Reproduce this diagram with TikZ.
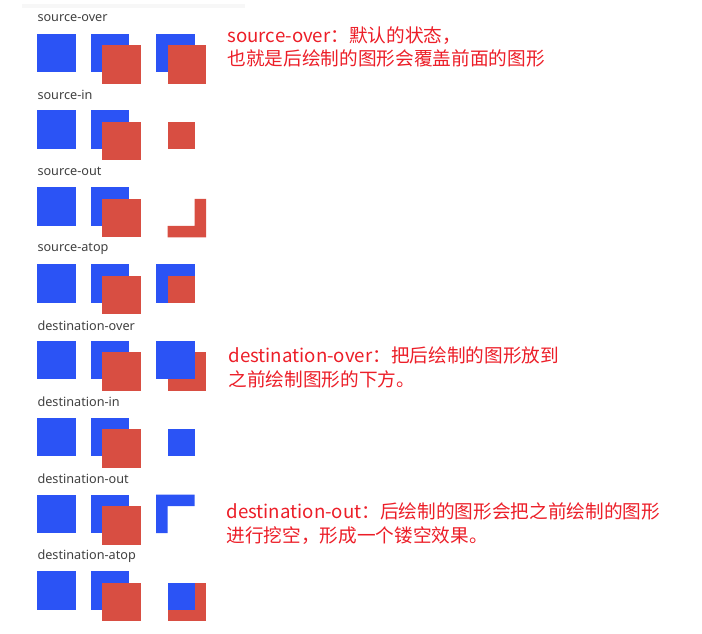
\documentclass[tikz,border=0pt]{standalone}
\usepackage{fontspec}
\setmainfont{Noto Sans}
\newfontfamily\cjk{Noto Sans CJK SC}

\definecolor{sqBlue}{RGB}{43,83,245}
\definecolor{sqRed}{RGB}{216,78,66}
\definecolor{noteRed}{RGB}{236,30,40}
\definecolor{labGray}{RGB}{64,64,64}

\tikzset{every picture/.style={line width=0.75pt}}
\tikzset{
  blueSq/.style={fill=sqBlue},
  redSq/.style={fill=sqRed},
  opLabel/.style={anchor=west, inner sep=0pt, text=labGray, font=\fontsize{9.5}{11}\selectfont},
  noteText/.style={anchor=west, inner sep=0pt, align=left, text=noteRed, font=\cjk\fontsize{14}{17.5}\selectfont}
}

\begin{document}
\begin{tikzpicture}[x=0.75pt,y=0.75pt,yscale=-1,xscale=1]
\useasboundingbox (0,0) rectangle (702,634);

%Straight Lines (faint top rule)
\draw [color=black!3, line width=3] (22,6) -- (245,6) ;

% ---- source-over
\node [opLabel] (lSrcOver) at (37,18) {source-over};
\fill [blueSq] (37,33.7) rectangle +(38.5,38.5) ;
\fill [blueSq] (90.5,33.7) rectangle +(38.5,38.5) ;
\fill [redSq] (102,45.2) rectangle +(38.5,38.5) ;
\fill [blueSq] (156,33.7) rectangle +(38.5,38.5) ;
\fill [redSq] (167.5,45.2) rectangle +(38.5,38.5) ;

% ---- source-in
\node [opLabel] (lSrcIn) at (37,95) {source-in};
\fill [blueSq] (37,110.5) rectangle +(38.5,38.5) ;
\fill [blueSq] (90.5,110.5) rectangle +(38.5,38.5) ;
\fill [redSq] (102,122) rectangle +(38.5,38.5) ;
\fill [redSq] (167.5,122) rectangle (194.5,149) ;

% ---- source-out
\node [opLabel] (lSrcOut) at (37,171.8) {source-out};
\fill [blueSq] (37,187.3) rectangle +(38.5,38.5) ;
\fill [blueSq] (90.5,187.3) rectangle +(38.5,38.5) ;
\fill [redSq] (102,198.8) rectangle +(38.5,38.5) ;
\fill [redSq] (194.5,198.8) -- (206,198.8) -- (206,237.3) -- (167.5,237.3) -- (167.5,225.8) -- (194.5,225.8) -- cycle ;

% ---- source-atop
\node [opLabel] (lSrcAtop) at (37,248.6) {source-atop};
\fill [blueSq] (37,264.1) rectangle +(38.5,38.5) ;
\fill [blueSq] (90.5,264.1) rectangle +(38.5,38.5) ;
\fill [redSq] (102,275.6) rectangle +(38.5,38.5) ;
\fill [blueSq] (156,264.1) rectangle +(38.5,38.5) ;
\fill [redSq] (167.5,275.6) rectangle (194.5,302.6) ;

% ---- destination-over
\node [opLabel] (lDstOver) at (37,325.4) {destination-over};
\fill [blueSq] (37,340.9) rectangle +(38.5,38.5) ;
\fill [blueSq] (90.5,340.9) rectangle +(38.5,38.5) ;
\fill [redSq] (102,352.4) rectangle +(38.5,38.5) ;
\fill [redSq] (167.5,352.4) rectangle +(38.5,38.5) ;
\fill [blueSq] (156,340.9) rectangle +(38.5,38.5) ;

% ---- destination-in
\node [opLabel] (lDstIn) at (37,402.2) {destination-in};
\fill [blueSq] (37,417.7) rectangle +(38.5,38.5) ;
\fill [blueSq] (90.5,417.7) rectangle +(38.5,38.5) ;
\fill [redSq] (102,429.2) rectangle +(38.5,38.5) ;
\fill [blueSq] (167.5,429.2) rectangle (194.5,456.2) ;

% ---- destination-out
\node [opLabel] (lDstOut) at (37,479) {destination-out};
\fill [blueSq] (37,494.5) rectangle +(38.5,38.5) ;
\fill [blueSq] (90.5,494.5) rectangle +(38.5,38.5) ;
\fill [redSq] (102,506) rectangle +(38.5,38.5) ;
\fill [blueSq] (156,494.5) -- (194.5,494.5) -- (194.5,506) -- (167.5,506) -- (167.5,533) -- (156,533) -- cycle ;

% ---- destination-atop
\node [opLabel] (lDstAtop) at (37,555.8) {destination-atop};
\fill [blueSq] (37,571.3) rectangle +(38.5,38.5) ;
\fill [blueSq] (90.5,571.3) rectangle +(38.5,38.5) ;
\fill [redSq] (102,582.8) rectangle +(38.5,38.5) ;
\fill [redSq] (167.5,582.8) rectangle +(38.5,38.5) ;
\fill [blueSq] (167.5,582.8) rectangle (194.5,609.8) ;

% Text Node
\node [noteText] (noteSrcOver) at (227,47) {source-over：默认的状态，\\也就是后绘制的图形会覆盖前面的图形};
% Text Node
\node [noteText] (noteDstOver) at (228,367.5) {destination-over：把后绘制的图形放到\\之前绘制图形的下方。};
% Text Node
\node [noteText] (noteDstOut) at (226,523.5) {destination-out：后绘制的图形会把之前绘制的图形\\进行挖空，形成一个镂空效果。};

\end{tikzpicture}
\end{document}
